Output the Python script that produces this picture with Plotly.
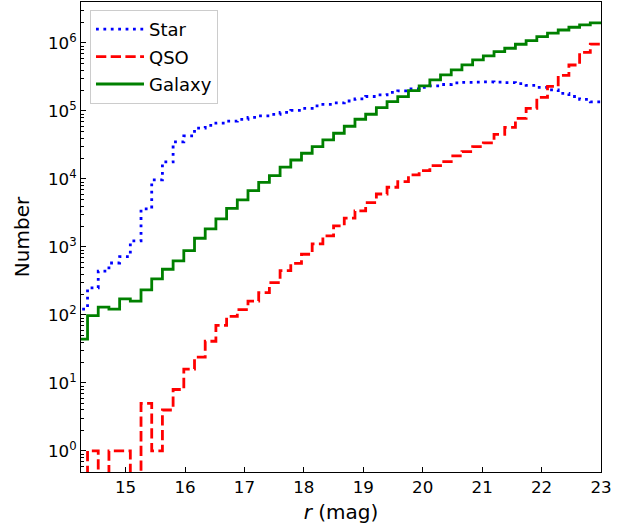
import numpy as np
import plotly.graph_objects as go

# Histogram bin edges (r magnitude)
bin_edges = np.linspace(14.0, 23.0, 51)

star_counts = [60, 122, 250, 440, 580, 720, 1225, 3630, 9670, 17800,
               35000, 42900, 56000, 61200, 66300, 70700, 75000, 80200, 84400, 88900,
               95000, 101700, 109000, 118500, 124800, 131000, 140000, 150000, 163000, 172000,
               187000, 197000, 211000, 222000, 233000, 245000, 258000, 263000, 265000, 267000,
               265000, 261000, 252000, 237000, 222000, 204000, 181000, 163000, 148000, 136000]

qso_counts = [0, 0, 1, 0, 1, 1, 0, 5, 1, 4,
              8, 16, 24, 41, 70, 95, 120, 160, 213, 298,
              448, 575, 781, 1107, 1452, 2037, 2644, 3383, 4480, 6000,
              7550, 9120, 11450, 13250, 15700, 18000, 21800, 25200, 29900, 33800,
              45100, 57200, 77600, 109000, 158000, 229000, 333000, 474000, 725000, 960000]

galaxy_counts = [20, 44, 98, 130, 122, 172, 160, 233, 338, 470,
                 622, 883, 1343, 1840, 2580, 3700, 4910, 6730, 8930, 11190,
                 14870, 19000, 23860, 29870, 37480, 47000, 59500, 75500, 89400, 112000,
                 137000, 162000, 199000, 233000, 286000, 338000, 401000, 475000, 562000, 644000,
                 745000, 836000, 956000, 1080000, 1240000, 1390000, 1550000, 1700000, 1840000, 1970000]

y_tick_exps = [0, 1, 2, 3, 4, 5, 6]
x_tick_vals = [15, 16, 17, 18, 19, 20, 21, 22, 23]

FLOOR = 1e-2  # empty bins drawn below the visible range (like matplotlib's clipping)


def step_y(counts):
    c = np.asarray(counts, dtype=float)
    c = np.where(c > 0, c, FLOOR)
    return np.append(c, c[-1])


fig = go.Figure()
series = [
    ("Star", star_counts, "#0000ff", "2.8px,4.6px"),
    ("QSO", qso_counts, "#ff0000", "10.3px,4.4px"),
    ("Galaxy", galaxy_counts, "#008000", "solid"),
]
for name, counts, color, dash in series:
    fig.add_trace(go.Scatter(
        x=bin_edges, y=step_y(counts), mode="lines", name=name,
        legendgroup=name,
        line=dict(color=color, width=2.8, dash=dash, shape="hv"),
    ))

minor_vals = [m * 10.0 ** e for e in range(-1, 7) for m in range(2, 10)]

fig.update_layout(
    width=634, height=526,
    margin=dict(l=81, r=33, t=2, b=54),
    paper_bgcolor="white", plot_bgcolor="white",
    font=dict(family="DejaVu Sans", size=16.7, color="black"),
    showlegend=True,
    legend=dict(
        x=0.0173, y=0.983, xanchor="left", yanchor="top",
        bgcolor="rgba(255,255,255,0.8)", bordercolor="#cccccc", borderwidth=1,
        font=dict(size=18, family="DejaVu Sans"),
        itemwidth=48, tracegroupgap=1,
    ),
    xaxis=dict(
        range=[14.25, 23.0], showgrid=False, zeroline=False,
        showline=True, linecolor="black", linewidth=1.1, mirror=True,
        ticks="inside", ticklen=5, tickwidth=1.1, tickcolor="black",
        tickvals=x_tick_vals, ticktext=[str(v) for v in x_tick_vals],
        title=dict(text="<i>r</i> (mag)", standoff=8),
    ),
    yaxis=dict(
        type="log", range=[np.log10(0.49), np.log10(4.0e6)],
        showgrid=False, zeroline=False,
        showline=True, linecolor="black", linewidth=1.1, mirror=True,
        ticks="inside", ticklen=5, tickwidth=1.1, tickcolor="black",
        tickvals=[10.0 ** e for e in y_tick_exps],
        ticktext=["10<sup>%d</sup>" % e for e in y_tick_exps],
        minor=dict(ticks="inside", ticklen=2.8, tickwidth=0.8, tickcolor="black",
                   tickvals=minor_vals, showgrid=False),
        title=dict(text="Number", standoff=12),
    ),
)

fig.write_html("out.html")
